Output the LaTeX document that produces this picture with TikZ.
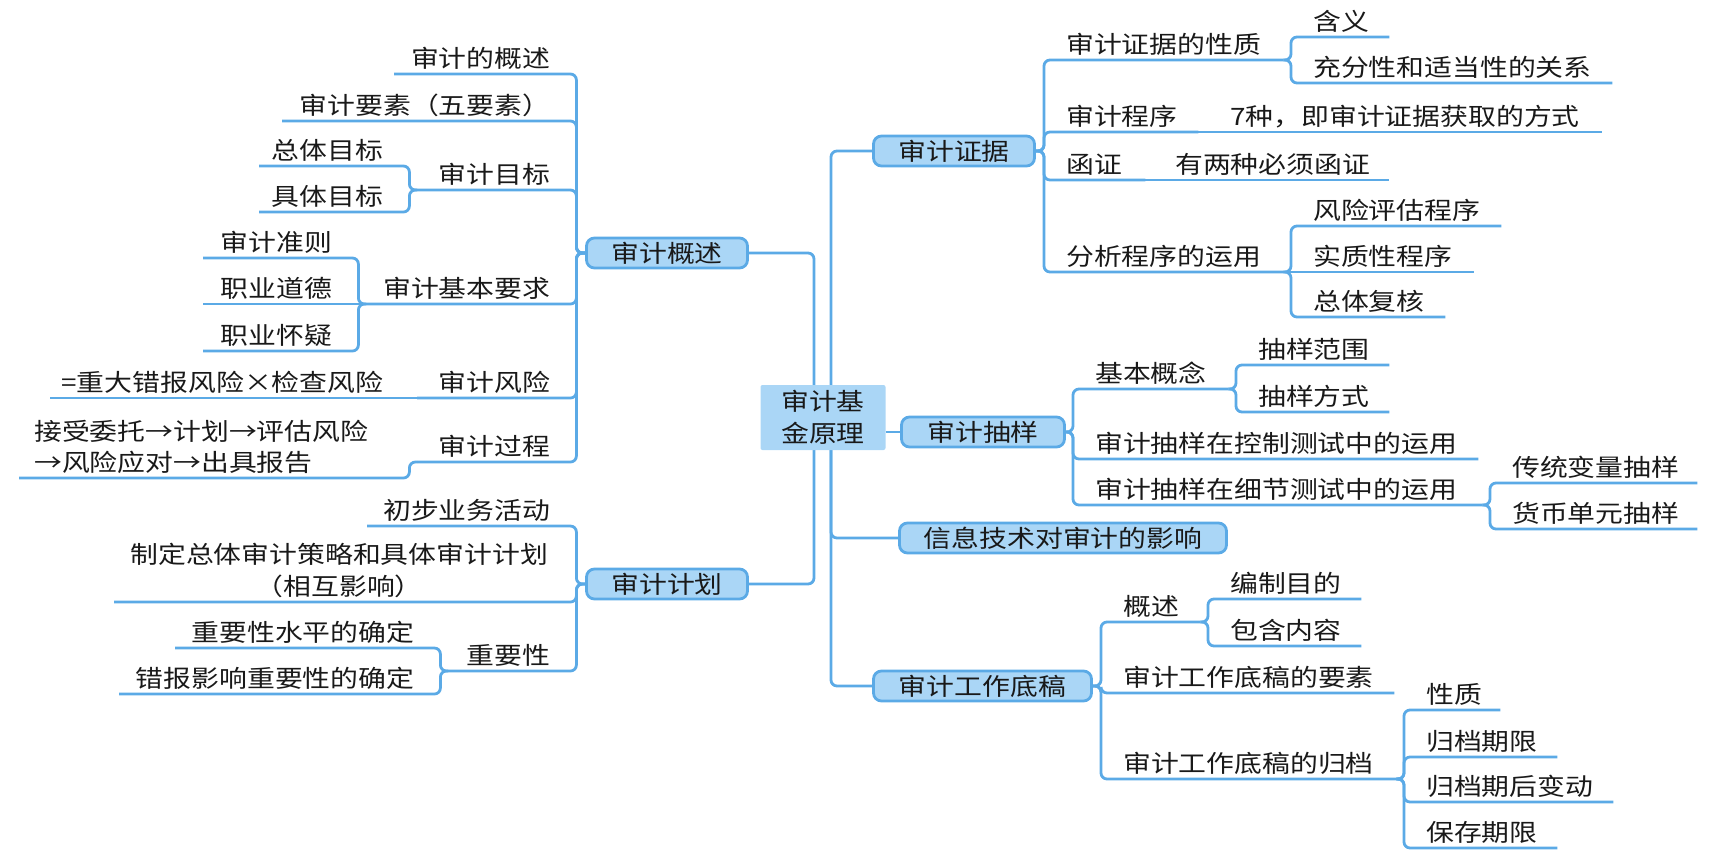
\documentclass[tikz,border=0pt]{standalone}
\usepackage{fontspec}
\newfontfamily\cjkf[FakeStretch=1.16]{Noto Sans CJK SC}
\usetikzlibrary{backgrounds}
\definecolor{lb}{RGB}{91,170,230}
\definecolor{bf}{RGB}{170,214,246}
\definecolor{tc}{RGB}{25,25,25}
\newcommand\tf{\cjkf\fontsize{24}{31}\selectfont}
\setlength{\parindent}{0pt}
\tikzset{
  ln/.style={draw=lb, line width=2.8pt, rounded corners=6pt},
  tp/.style={inner sep=0pt, anchor=south west, text height=22pt, text depth=6pt, font=\tf, text=tc},
  tl/.style={tp, align=right},
  tr/.style={tp, align=left},
  bx/.style={draw=lb, fill=bf, line width=2.8pt, rounded corners=8pt, inner sep=0pt, minimum height=30pt, font=\tf, text=tc},
  ctrbox/.style={fill=bf, rounded corners=2pt, minimum width=125pt, minimum height=65pt, inner sep=0pt, align=center, font=\cjkf\fontsize{24}{32}\selectfont, text=tc},
}
\newcommand\tL[5]{\node[tl, text width=#3pt] (#1) at (#2,#4) {#5\kern26pt};}
\newcommand\tR[5]{\node[tr, text width=#3pt] (#1) at (#2,#4) {\hspace*{22pt}#5};}
\begin{document}
\begin{tikzpicture}[x=1pt, y=-1pt]
\useasboundingbox (0,0) rectangle (1714,860);

% centre and main boxes
\node[ctrbox] (ctr) at (823,417.5) {审计基\\金原理};
\node[bx, minimum width=161pt] (gs) at (667,253) {审计概述};
\node[bx, minimum width=161pt] (jh) at (667,584) {审计计划};
\node[bx, minimum width=161pt] (zj) at (954,151) {审计证据};
\node[bx, minimum width=163pt] (cy) at (983,432) {审计抽样};
\node[bx, minimum width=327pt] (xx) at (1063,538) {信息技术对审计的影响};
\node[bx, minimum width=218pt] (dg) at (982.5,686) {审计工作底稿};

% left: 审计概述
\tL{a1}{394}{182}{74}{审计的概述}
\tL{a2}{282}{294}{121}{审计要素（五要素）}
\tL{a3}{417}{159}{190}{审计目标}
\tL{a31}{259}{150}{166}{总体目标}
\tL{a32}{259}{150}{212}{具体目标}
\tL{a4}{366}{210}{304}{审计基本要求}
\tL{a41}{203}{155}{258}{审计准则}
\tL{a42}{203}{155}{304}{职业道德}
\tL{a43}{203}{155}{351}{职业怀疑}
\tL{a5}{417}{159}{398}{审计风险}
\tL{a51}{50}{359}{398}{=重大错报风险×检查风险}
\tL{a6}{417}{159}{462}{审计过程}
\node[tr, text width=390pt, text depth=37pt] (a61) at (19,478) {\hspace*{15pt}接受委托→计划→评估风险\\\hspace*{15pt}→风险应对→出具报告};

% left: 审计计划
\tL{b1}{367}{209}{526}{初步业务活动}
\node[tp, align=center, text width=462pt, text depth=38pt, font=\cjkf\fontsize{24}{32}\selectfont] (b2) at (114,602) {制定总体审计策略和具体审计计划\kern12pt\\（相互影响）\kern12pt};
\tL{b3}{448}{128}{671}{重要性}
\tL{b31}{175}{265}{648}{重要性水平的确定}
\tL{b32}{119}{321}{694}{错报影响重要性的确定}

% right: 审计证据
\tR{c1}{1044}{239}{60}{审计证据的性质}
\tR{c11}{1291}{98}{37}{含义}
\tR{c12}{1291}{321}{83}{充分性和适当性的关系}
\tR{c2}{1044}{154}{132}{审计程序}
\tR{c21}{1208}{394}{132}{7种，即审计证据获取的方式}
\tR{c3}{1044}{101}{180}{函证}
\tR{c31}{1153}{236}{180}{有两种必须函证}
\tR{c4}{1044}{239}{272}{分析程序的运用}
\tR{c41}{1291}{210}{226}{风险评估程序}
\tR{c42}{1291}{183}{272}{实质性程序}
\tR{c43}{1291}{154}{317}{总体复核}

% right: 审计抽样
\tR{d1}{1073}{155}{389}{基本概念}
\tR{d11}{1236}{153}{365}{抽样范围}
\tR{d12}{1236}{153}{412}{抽样方式}
\tR{d2}{1073}{405}{459}{审计抽样在控制测试中的运用}
\tR{d3}{1073}{409}{505}{审计抽样在细节测试中的运用}
\tR{d31}{1490}{207}{483}{传统变量抽样}
\tR{d32}{1490}{207}{529}{货币单元抽样}

% right: 审计工作底稿
\tR{e1}{1101}{99}{622}{概述}
\tR{e11}{1208}{153}{599}{编制目的}
\tR{e12}{1208}{153}{646}{包含内容}
\tR{e2}{1101}{293}{693}{审计工作底稿的要素}
\tR{e3}{1101}{295}{779}{审计工作底稿的归档}
\tR{e31}{1404}{96}{710}{性质}
\tR{e32}{1404}{153}{757}{归档期限}
\tR{e33}{1404}{209}{802}{归档期后变动}
\tR{e34}{1404}{153}{848}{保存期限}

\begin{scope}[on background layer]
% trunks from the centre
\draw[ln] ([xshift=-9pt]ctr.center) |- (gs.east);
\draw[ln] ([xshift=-9pt]ctr.center) |- (jh.east);
\draw[ln] ([xshift=8pt]ctr.center) |- (zj.west);
\draw[ln] ([xshift=8pt]ctr.center) |- (xx.west);
\draw[ln] ([xshift=8pt]ctr.center) |- (dg.west);
\draw[ln] (ctr.east |- cy.west) -- (cy.west);

% left branches
\foreach \n in {a1,a2,a3,a4,a5,a6} \draw[ln] (gs.west) -| (\n.south east) -- (\n.south west);
\foreach \n in {a31,a32} \draw[ln] (a3.south west) -| (\n.south east) -- (\n.south west);
\foreach \n in {a41,a43} \draw[ln] (a4.south west) -| (\n.south east) -- (\n.south west);
\draw[ln] (a4.south west) -- (a42.south west);
\draw[ln] (a5.south west) -- (a51.south west);
\draw[ln] (a6.south west) -| (a61.south east) -- (a61.south west);
\foreach \n in {b1,b2,b3} \draw[ln] (jh.west) -| (\n.south east) -- (\n.south west);
\foreach \n in {b31,b32} \draw[ln] (b3.south west) -| (\n.south east) -- (\n.south west);

% right branches
\foreach \n in {c1,c2,c3,c4} \draw[ln] (zj.east) -| (\n.south west) -- (\n.south east);
\foreach \n in {c11,c12} \draw[ln] (c1.south east) -| (\n.south west) -- (\n.south east);
\draw[ln] (c2.south east) -- (c21.south east);
\draw[ln] (c3.south east) -- (c31.south east);
\foreach \n in {c41,c43} \draw[ln] (c4.south east) -| (\n.south west) -- (\n.south east);
\draw[ln] (c4.south east) -- (c42.south east);
\foreach \n in {d1,d2,d3} \draw[ln] (cy.east) -| (\n.south west) -- (\n.south east);
\foreach \n in {d11,d12} \draw[ln] (d1.south east) -| (\n.south west) -- (\n.south east);
\foreach \n in {d31,d32} \draw[ln] (d3.south east) -| (\n.south west) -- (\n.south east);
\foreach \n in {e1,e2,e3} \draw[ln] (dg.east) -| (\n.south west) -- (\n.south east);
\foreach \n in {e11,e12} \draw[ln] (e1.south east) -| (\n.south west) -- (\n.south east);
\foreach \n in {e31,e32,e33,e34} \draw[ln] (e3.south east) -| (\n.south west) -- (\n.south east);
\end{scope}
\end{tikzpicture}
\end{document}
